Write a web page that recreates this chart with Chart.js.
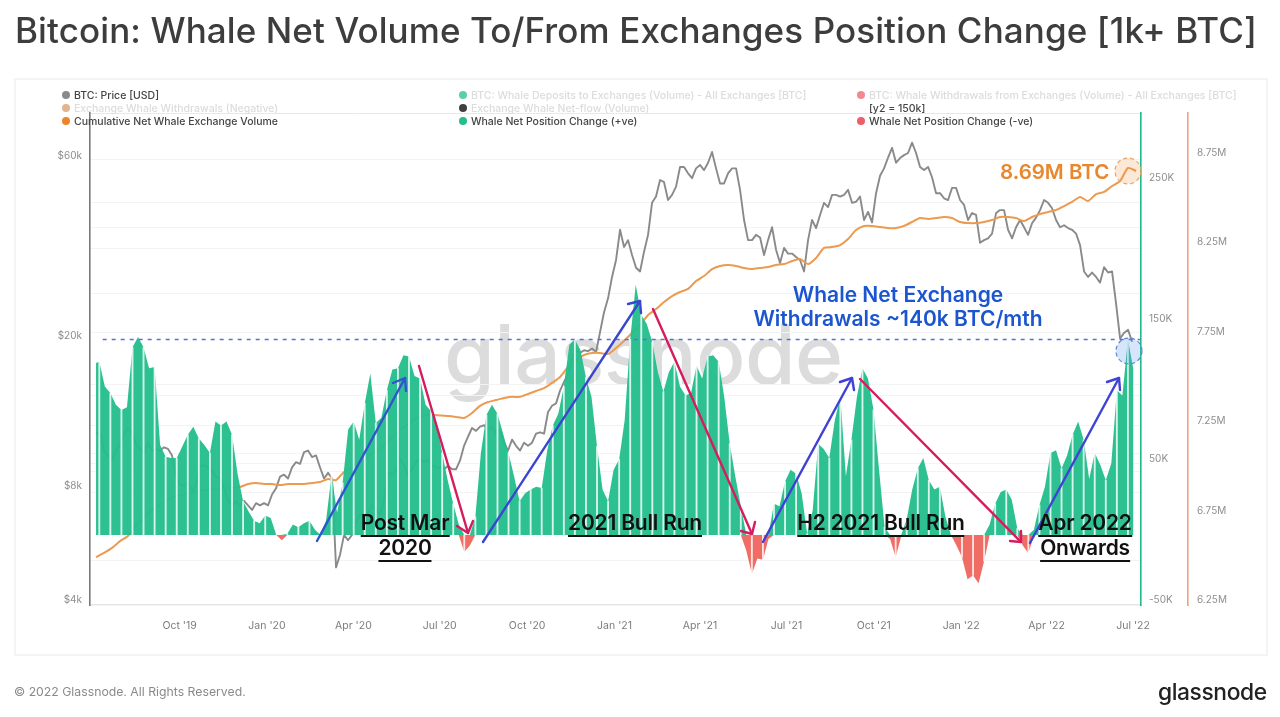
<!DOCTYPE html>
<html><head><meta charset="utf-8"><title>Bitcoin: Whale Net Volume To/From Exchanges Position Change</title>
<script src="https://cdn.jsdelivr.net/npm/chart.js@4/dist/chart.umd.min.js"></script>
<style>
html,body{margin:0;padding:0;background:#fff;width:1280px;height:717px;overflow:hidden;font-family:Inter,"Noto Sans",sans-serif}
#page{position:absolute;left:0;top:0;width:1280px;height:717px;filter:blur(.35px)}
.abs{position:absolute;white-space:nowrap}
#title{left:15px;top:9px;font-size:35px;line-height:42px;font-weight:500;color:#3d3d3d;letter-spacing:.1px}
#card{left:14px;top:78px;width:1250px;height:574px;border:2px solid #f4f4f4;box-sizing:content-box}
#wm{left:444px;top:295px;font-size:82px;line-height:120px;font-weight:500;color:#dcdcdc;letter-spacing:-.6px}
#cv{position:absolute;left:0;top:0;width:1280px;height:717px}
#ov{position:absolute;left:0;top:0}
.lg{font-size:10.5px;line-height:13px;color:#444;font-weight:500}
.lg.f{color:#dcdcdc}
.dot{width:8px;height:8px;border-radius:50%}
.tag{font-size:21px;line-height:24px;font-weight:600;color:#111;transform:translateX(-50%);letter-spacing:-.2px}
.tag.u{border-bottom:2px solid #111}
.blue{font-size:21px;line-height:24px;font-weight:600;color:#1b55d0;transform:translateX(-50%)}
#btc{left:1000px;top:160px;font-size:20.5px;line-height:24px;font-weight:600;color:#e8872e}
#foot{left:14px;top:684px;font-size:12.25px;line-height:16px;color:#8a8a8a}
#logo{left:1158px;top:676px;font-size:22.8px;line-height:32px;font-weight:500;color:#222;letter-spacing:-.4px}
</style></head><body><div id="page">
<div class="abs" id="title">Bitcoin: Whale Net Volume To/From Exchanges Position Change [1k+ BTC]</div>
<div class="abs" id="card"></div>
<div class="abs" id="wm">glassnode</div>
<canvas id="cv" width="1280" height="717"></canvas>
<svg id="ov" width="1280" height="717" xmlns="http://www.w3.org/2000/svg">
<circle cx="1128" cy="171" r="13" fill="rgba(240,150,70,.22)" stroke="#eba365" stroke-width="1.2" stroke-dasharray="4 3"/>
<circle cx="1129" cy="351" r="13" fill="rgba(90,150,235,.25)" stroke="#5a85d8" stroke-width="1.2" stroke-dasharray="4 3"/>
<g fill="none" stroke-width="2.4" stroke-linecap="round" stroke-linejoin="round">
<g stroke="#2f55cf"><path d="M317 541 L405 378"/><path d="M393 383 L405 378 L406 391"/></g>
<g stroke="#d61c5e"><path d="M419 366 L468 533"/><path d="M457 526 L468 533 L473 521"/></g>
<g stroke="#3b46d0"><path d="M483 542 L640 301"/><path d="M628 304 L640 301 L641 313"/></g>
<g stroke="#d61c5e"><path d="M653 309 L752 534"/><path d="M741 531 L752 534 L755 522"/></g>
<g stroke="#4040d6"><path d="M763 542 L852 378"/><path d="M840 382 L852 378 L854 390"/></g>
<g stroke="#d61c5e"><path d="M860 379 L1021 542"/><path d="M1010 541 L1021 542 L1021 531"/></g>
<g stroke="#3f44d4"><path d="M1030 543 L1119 378"/><path d="M1107 382 L1119 378 L1120 390"/></g>
</g></svg>
<div class="abs tag u" style="left:405px;top:511px">Post Mar</div>
<div class="abs tag u" style="left:405px;top:536px">2020</div>
<div class="abs tag u" style="left:635px;top:511px">2021 Bull Run</div>
<div class="abs tag u" style="left:881px;top:511px">H2 2021 Bull Run</div>
<div class="abs tag u" style="left:1085px;top:511px">Apr 2022</div>
<div class="abs tag u" style="left:1085px;top:536px">Onwards</div>
<div class="abs blue" style="left:898px;top:283px">Whale Net Exchange</div>
<div class="abs blue" style="left:898px;top:307px">Withdrawals ~140k BTC/mth</div>
<div class="abs" id="btc">8.69M BTC</div>
<div class="abs" id="foot">© 2022 Glassnode. All Rights Reserved.</div>
<div class="abs" id="logo">glassnode</div>
<div id="legend"></div>
</div>
<script>
// ---- tick labels / categories ----
const xTickDays   = [0,92,183,274,366,458,548,639,731,823,913,1004]; // days since 1 Oct 2019
const xTickLabels = ["Oct '19","Jan '20","Apr '20","Jul '20","Oct '20","Jan '21","Apr '21","Jul '21","Oct '21","Jan '22","Apr '22","Jul '22"];
const priceTicks  = [4,8,20,60];                 // $k
const volumeTicks = [-50,50,150,250];            // K BTC
const cumTicks    = [6.25,6.75,7.25,7.75,8.25,8.75]; // M BTC
const priceGridLevels = [79.9,60,46.2,39.8,35,26.6,21,15.3,14.3,11.9,10,9.4,9,7.9,5.2];

// ---- BTC price, $k, one reading every 4.21 days from day -88 ----
const priceStartDay = -88, priceStepDays = 4.2123;
const btcPrice = [
11.3,11.4,10.2,9.9,9.6, 10.2,10.6,11.3,11.7,11.3, 10.6,10.3,10.0,10.7,10.2,
10.3,10.2,10.4,10.3,9.9, 8.7,8.3,8.2,8.4,8.0, 8.2,9.3,9.3,9.2,9.0,
8.7,8.6,8.1,7.5,7.3, 7.5,7.3,7.5,7.3,7.1, 7.4,7.3,7.4,7.3,7.8,
8.1,8.7,8.8,8.6,9.2, 9.5,9.4,10.1,10.2,9.8, 9.9,9.2,8.6,8.9,8.6,
5.0,5.4,6.1,5.9,6.1, 6.6,6.9,6.8,7.0,7.3, 7.1,6.9,7.5,8.9,8.8,
9.0,9.7,9.3,8.8,9.1, 9.5,9.7,9.5,9.6,9.3, 9.2,9.2,9.1,9.3,9.1,
9.1,9.6,10.5,11.1,11.7, 11.5,11.8,11.9,11.6,11.8, 11.3,11.5,10.7,10.2,10.9,
10.5,10.2,10.7,10.5,10.7, 11.3,11.4,11.3,12.9,13.4, 13.6,14.7,15.5,16.3,17.8,
18.8,18.5,18.8,18.7,19.0, 18.6,21.0,23.7,25.8,29.4, 32.6,39.2,35.3,36.8,33.6,
31.1,30.4,34.3,38.0,46.2, 48.0,53.1,52.4,47.0,48.5, 51.0,57.5,57.5,55.3,53.7,
57.0,58.2,56.4,59.0,63.0, 57.0,52.0,52.0,55.3,57.0, 57.0,50.0,41.6,36.8,36.8,
38.0,37.4,33.6,36.8,39.8, 34.7,32.0,35.1,33.9,33.9, 33.2,32.6,30.4,36.8,41.6,
39.6,42.9,46.2,45.0,48.5, 48.5,48.0,48.5,50.0,46.2, 46.5,48.0,41.6,43.7,41.0,
49.0,54.5,57.0,60.9,64.6, 59.0,60.7,61.8,62.6,66.7, 62.6,57.5,56.4,57.5,54.0,
49.0,49.0,47.5,47.0,50.6, 50.6,47.0,45.6,41.6,43.4, 42.9,36.2,36.8,37.2,38.3,
43.4,44.2,44.2,39.2,37.2, 39.8,41.6,39.8,38.0,40.8, 42.2,44.2,47.0,46.2,44.7,
41.6,39.8,40.3,39.6,39.2, 38.3,35.7,30.4,29.4,30.2, 29.4,28.4,31.2,30.2,30.4,
25.0,20.2,20.9,21.3,19.8];

// ---- Cumulative net whale exchange volume, M BTC, one reading every 8.42 days ----
const cumStartDay = -88, cumStepDays = 8.4246;
const cumVolume = [
6.515,6.538,6.566,6.604,6.633,6.69,6.733,6.778,6.806,6.834,6.856,6.862,6.873,6.884,6.89,6.895,6.895,6.9,
6.906,6.923,6.929,6.923,6.923,6.917,6.923,6.923,6.923,6.929,6.934,6.951,6.945,6.99,
7.012,7.04,7.073,7.107,7.14,7.18,7.225,7.258,7.29,7.303,7.309,
7.306,7.303,7.298,7.292,7.32,7.36,7.381,7.392,7.404,7.41,7.41,7.426,7.443,7.459,7.488,7.521,7.577,7.616,7.644,7.655,7.655,7.65,7.683,7.722,7.767,7.811,7.867,7.901,7.94,7.973,7.996,8.013,8.057,8.085,8.124,8.141,8.147,8.141,8.13,8.124,8.13,8.135,8.147,8.152,8.169,8.18,8.152,8.186,8.242,8.247,8.258,8.292,8.342,8.365,8.365,8.359,8.353,8.353,8.365,8.387,8.409,8.404,8.409,8.415,8.409,8.387,8.381,8.381,8.387,8.398,8.415,8.415,8.409,8.392,8.415,8.432,8.443,8.454,8.476,8.499,8.527,8.504,8.543,8.555,8.588,8.616,8.689,8.672];

// ---- Whale net position change, K BTC (+ve green, -ve red), one reading every 5.82 days ----
const netFirstDay = -88, netGridStartDay = -90.38, netStepDays = 5.8235;
const netChange = [
132,
133,114,109,100,96,98,144,152,144,128,
129,69,60,59,59,68,77,83,74,69,
63,87,84,87,77,47,26,18,11,9,
15,13,0,-4,1,8,6,9,11,4,
0,11,46,17,40,81,87,73,101,124,
86,90,111,127,128,138,137,122,120,100,
95,86,63,42,24,8,-13,-8,14,63,
92,100,93,78,63,45,26,32,35,37,
36,65,84,93,114,146,150,142,121,106,
68,35,26,50,58,88,150,192,169,162,
148,125,110,125,133,114,107,109,130,120,
137,138,133,106,70,45,22,-12,-30,-18,
-19,-3,24,22,41,50,47,32,1,19,
70,66,59,88,106,45,73,106,128,120,
96,50,6,-3,-17,-1,12,35,51,59,
42,35,37,14,0,-8,-17,-34,-31,-37,
-20,8,24,33,35,27,5,-8,-14,4,
23,37,63,65,51,61,77,87,73,43,
63,54,42,55,111,107,150,127];
const referenceLevel = 150; // [y2 = 150k]

// ---- legend ----
const legendRows = [
 [["#8a8a8a","BTC: Price [USD]",0],["#26bd8c","BTC: Whale Deposits to Exchanges (Volume) - All Exchanges [BTC]",1],["#f0606e","BTC: Whale Withdrawals from Exchanges (Volume) - All Exchanges [BTC]",1]],
 [["#d9986a","Exchange Whale Withdrawals (Negative)",1],["#000","Exchange Whale Net-flow (Volume)",1],[null,"[y2 = 150k]",0]],
 [["#ee8428","Cumulative Net Whale Exchange Volume",0],["#26bd8c","Whale Net Position Change (+ve)",0],["#ec5f68","Whale Net Position Change (-ve)",0]]
];
const lg = document.getElementById('legend');
legendRows.forEach((row,r)=>row.forEach((it,c)=>{
  const top = 89+r*13, left=[74,471,869][c];
  if(it[0]){const d=document.createElement('div');d.className='abs dot';d.style.cssText=`left:${left-12}px;top:${top+2}px;background:${it[0]}`;if(it[2])d.style.opacity=.75;lg.appendChild(d);}
  const t=document.createElement('div');t.className='abs lg'+(it[2]?' f':'');t.style.cssText=`left:${left}px;top:${top}px`;t.textContent=it[1];lg.appendChild(t);
}));

// ---- build points ----
const series = (vals,start,step)=>vals.map((v,i)=>({x:start+i*step,y:v}));
const netX = i => i===0 ? netFirstDay : netGridStartDay+i*netStepDays;
const posPts = netChange.map((v,i)=>({x:netX(i),y:Math.max(v,0)}));
const negPts = netChange.map((v,i)=>({x:netX(i),y:Math.min(v,0)}));
const stripes = netChange.map((v,i)=>({x:netX(i),y:v})).filter((p,i)=>i%2===1 && p.y!==0);

const setTicks = arr => s => { s.ticks = arr.map(v=>({value:v})); };
const lblFont = {family:'Inter, "Noto Sans", sans-serif',size:10};
Chart.defaults.font.family = lblFont.family;

new Chart(document.getElementById('cv'),{
 type:'line',
 data:{datasets:[
  {label:'BTC: Price [USD]',data:series(btcPrice,priceStartDay,priceStepDays),yAxisID:'yPrice',borderColor:'#8a8a8a',borderWidth:1.9,pointRadius:0,tension:0,order:6,borderJoinStyle:'round'},
  {label:'Cumulative Net Whale Exchange Volume',data:series(cumVolume,cumStartDay,cumStepDays),yAxisID:'yCum',borderColor:'#ec9a50',borderWidth:2,pointRadius:0,tension:0.2,order:5},
  {label:'Whale Net Position Change (+ve)',data:posPts,yAxisID:'yNet',borderWidth:0,borderColor:'transparent',backgroundColor:'rgba(36,190,140,.96)',fill:'origin',pointRadius:0,tension:0,order:4},
  {label:'Whale Net Position Change (-ve)',data:negPts,yAxisID:'yNet',borderWidth:0,borderColor:'transparent',backgroundColor:'rgba(240,104,96,.97)',fill:'origin',pointRadius:0,tension:0,order:3},
  {type:'bar',label:'gaps',data:stripes,yAxisID:'yNet',backgroundColor:'rgba(255,255,255,.82)',barThickness:1.2,order:2,grouped:false},
  {label:'[y2 = 150k]',data:[{x:-81,y:referenceLevel},{x:1012,y:referenceLevel}],yAxisID:'yNet',borderColor:'#5a6fd6',borderWidth:1.3,borderDash:[4,5],pointRadius:0,order:1}
 ]},
 options:{
  responsive:false,animation:false,devicePixelRatio:1,
  layout:{padding:{left:0,right:30,top:113,bottom:72}},
  plugins:{legend:{display:false},tooltip:{enabled:false}},
  elements:{line:{capBezierPoints:true}},
  scales:{
   x:{type:'linear',min:-94.35,max:1012.4,offset:false,
      grid:{display:false},border:{color:'#e6e6e6',width:1.5},
      afterBuildTicks:setTicks(xTickDays),
      afterFit:s=>{s.height=40},
      ticks:{autoSkip:false,maxRotation:0,padding:7,color:'#7c7c7c',font:{size:10.5},
             callback:v=>xTickLabels[xTickDays.indexOf(v)]}},
   yPriceL:{type:'logarithmic',position:'left',min:3.88,max:78,
      grid:{display:false,drawTicks:false},border:{color:'#7a7a7a',width:1.6},
      afterBuildTicks:setTicks(priceTicks),afterFit:s=>{s.width=90},
      ticks:{autoSkip:false,padding:8,color:'#8e8e8e',font:{size:10},callback:v=>'$'+v+'k'}},
   yPrice:{type:'logarithmic',position:'left',min:3.976,max:79.9,weight:5,
      grid:{color:c=>c.tick.value>70?'#e8e8e8':'#f3f3f3',lineWidth:1,drawTicks:false},border:{display:false},
      afterBuildTicks:setTicks(priceGridLevels),afterFit:s=>{s.width=0},
      ticks:{display:false}},
   y1L:{type:'linear',position:'right',min:-53.55,max:296.2,weight:1,
      grid:{display:false,drawTicks:false},border:{color:'#1fbb8a',width:1.6},
      afterBuildTicks:setTicks(volumeTicks),afterFit:s=>{s.width=47},
      ticks:{autoSkip:false,padding:8,color:'#8e8e8e',font:{size:10},callback:v=>v+'K'}},
   y2L:{type:'linear',position:'right',min:6.222,max:8.974,weight:2,
      grid:{display:false,drawTicks:false},border:{color:'#eca27e',width:1.6},
      afterBuildTicks:setTicks(cumTicks),afterFit:s=>{s.width=62},
      ticks:{autoSkip:false,padding:9,color:'#8e8e8e',font:{size:10},callback:v=>v+'M'}},
   yNet:{type:'linear',display:false,min:-53.7,max:323.8},
   yCum:{type:'linear',display:false,min:6.247,max:8.996}
  }
 }
});
</script>
</body></html>
